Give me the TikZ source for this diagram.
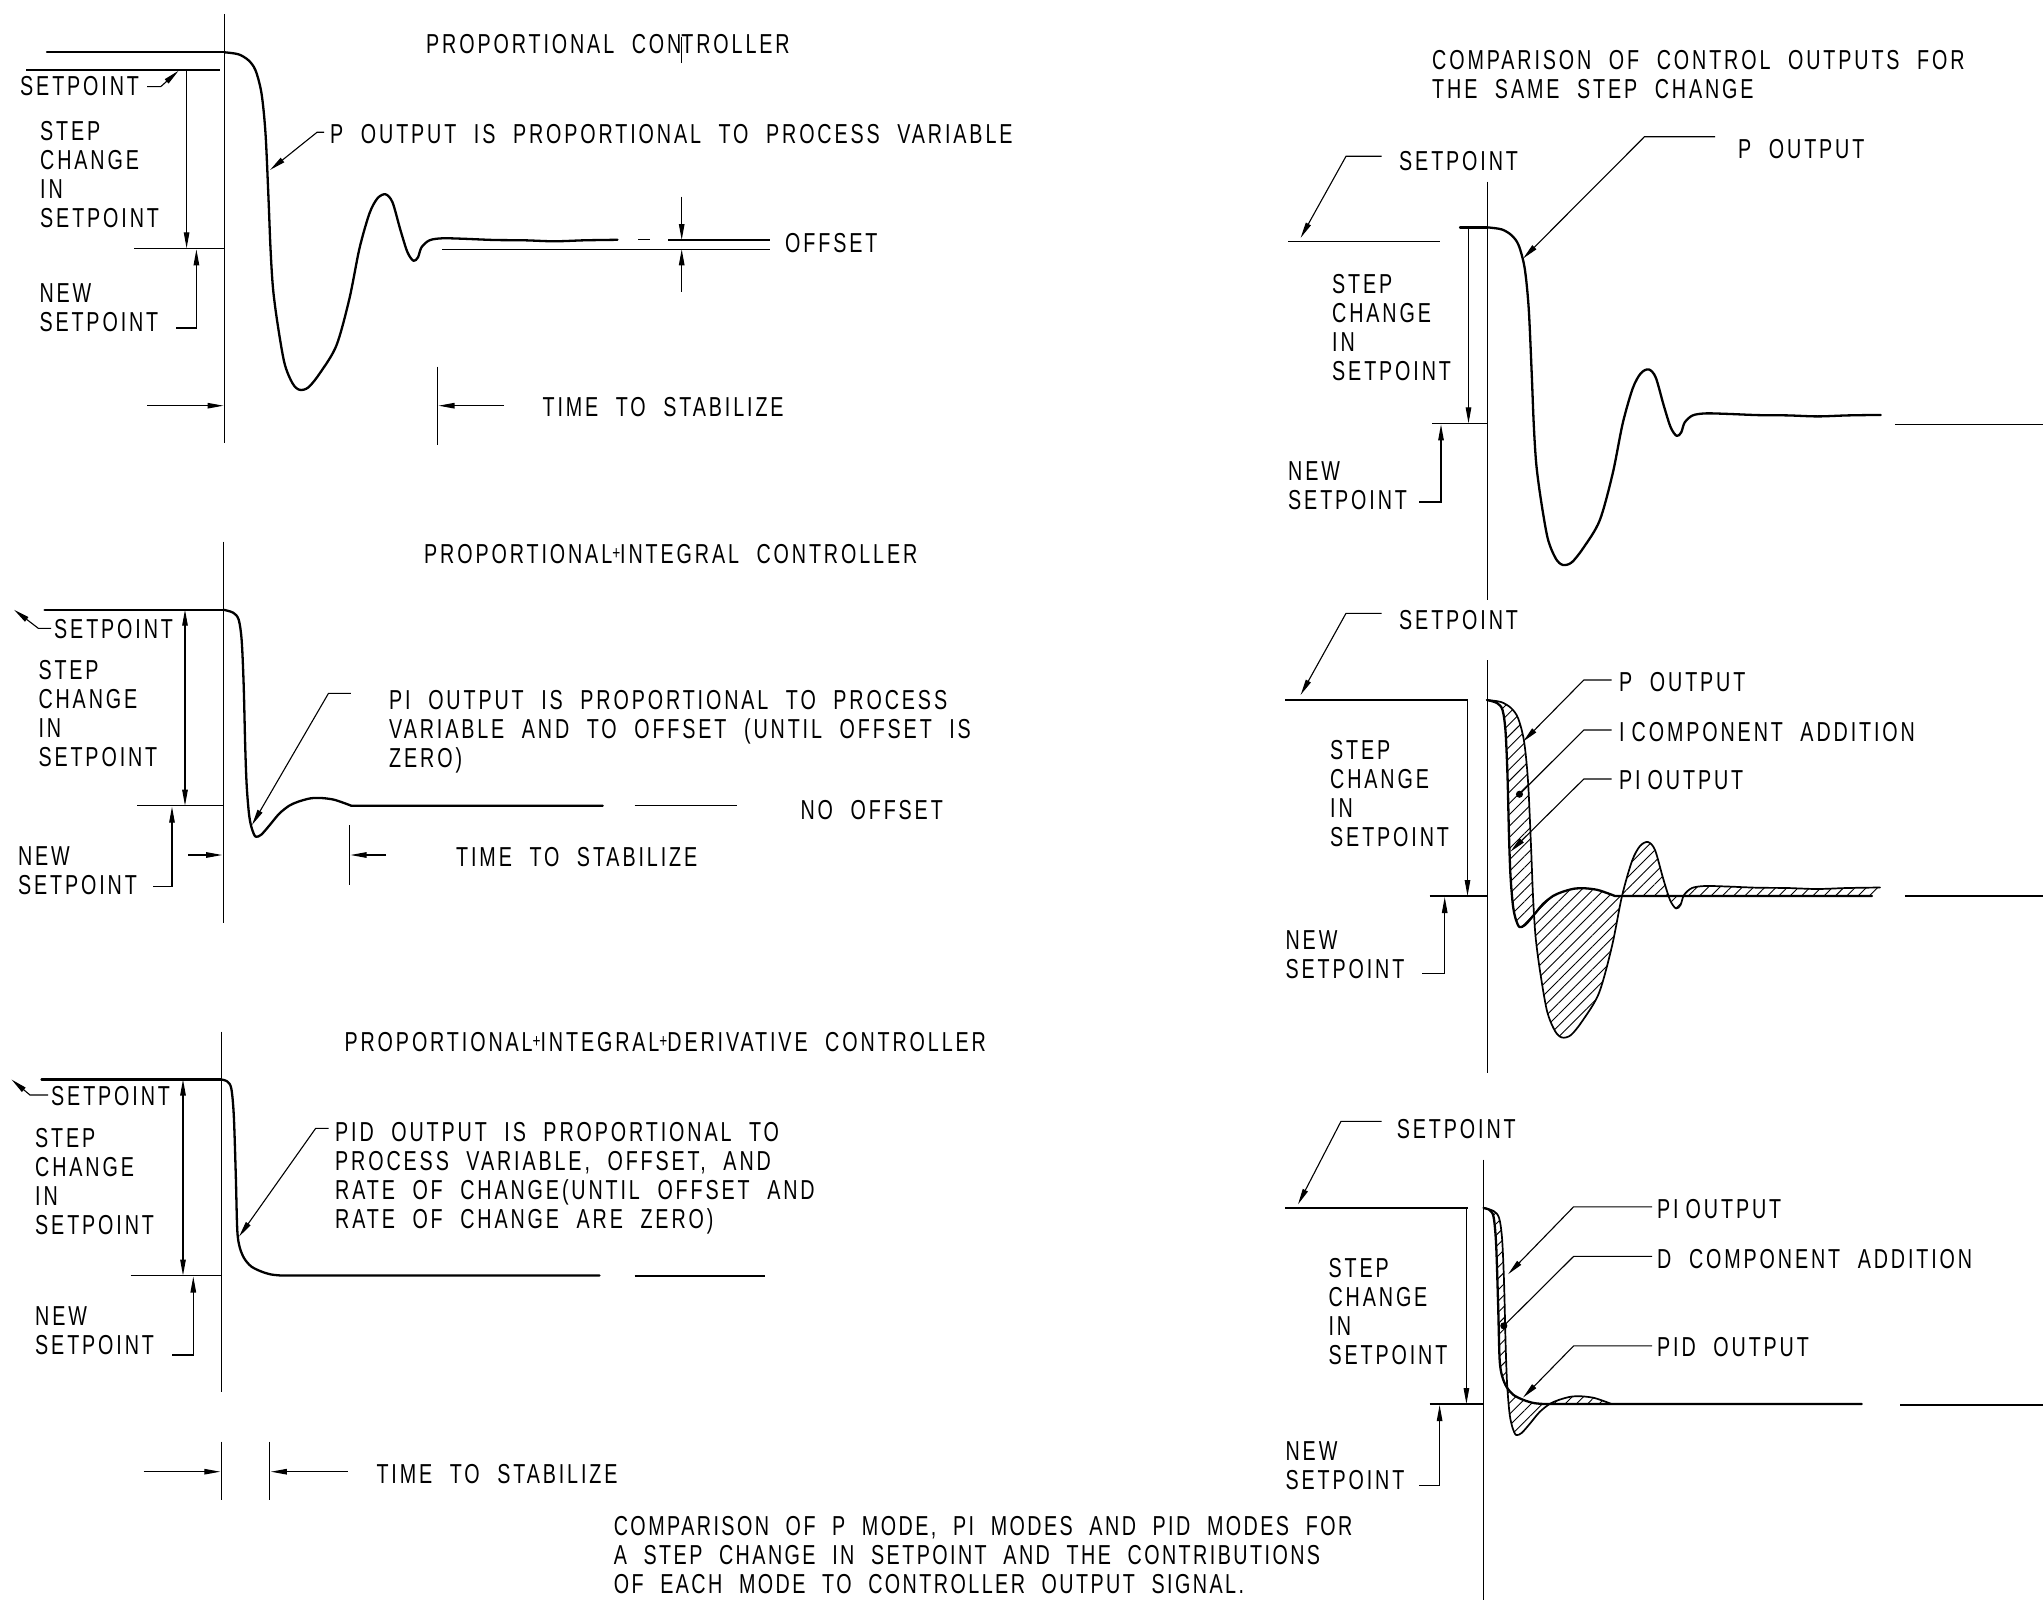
\documentclass[tikz,border=0pt]{standalone}
\usepackage{fontspec}
\setmainfont{Liberation Sans}[FakeStretch=0.72,LetterSpace=10.5,WordSpace=2.1]
\usetikzlibrary{arrows.meta,patterns.meta}
\newcommand{\Pc}{plot[smooth,tension=0.5] coordinates {(0,-196) (14,-194) (24,-188) (31,-178) (37,-155) (41,-115) (44,-50) (46,0) (48.5,40) (53,75) (60,115) (68,135) (75,141.5) (84,139) (96,124) (112,97) (125,50) (135,0) (145,-35) (153,-50) (161,-54) (168,-46) (176,-18) (183,4) (189,12.5) (193.5,9) (197,-1) (205,-8) (218,-10) (240,-9.5) (270,-8.3) (300,-8) (330,-7) (360,-8) (393,-8.5)}}
\newcommand{\PIc}{plot[smooth,tension=0.5] coordinates {(0,-196) (10,-193) (15.5,-186) (18.5,-165) (20.5,-120) (22,-60) (23.5,-20) (26,10) (29,24) (32.5,31) (38,29) (46,20) (56,8) (66,0) (75,-4) (87,-7.3) (98,-7.7) (110,-6.2) (120,-3) (128,0)}}
\newcommand{\PIrevL}{-- plot[smooth,tension=0.5] coordinates {(128,0) (120,-3) (110,-6.2) (98,-7.7) (87,-7.3) (75,-4) (66,0) (56,8) (46,20) (38,29) (32.5,31) (29,24) (26,10) (23.5,-20) (22,-60) (20.5,-120) (18.5,-165) (15.5,-186) (10,-193) (0,-196)}}
\newcommand{\PIDc}{plot[smooth,tension=0.5] coordinates {(0,-196) (6,-194) (10,-187) (12.5,-160) (14.5,-100) (16,-45) (18.5,-28) (23,-17) (30,-9) (40,-4) (50,-1) (60,0)}}
\newcommand{\PIDrevL}{-- plot[smooth,tension=0.5] coordinates {(60,0) (50,-1) (40,-4) (30,-9) (23,-17) (18.5,-28) (16,-45) (14.5,-100) (12.5,-160) (10,-187) (6,-194) (0,-196)}}
\newcommand{\plus}{\raisebox{4pt}{\fontsize{19pt}{19pt}\selectfont+}}
\newcommand{\tick}{\makebox[0pt]{\rule[-10pt]{1.1pt}{26.3pt}}}
\begin{document}
\begin{tikzpicture}[x=1pt,y=-1pt,font=\fontsize{27.4pt}{29pt}\selectfont]
\tikzset{
  tl/.style={line width=1.1pt},
  cv/.style={line width=2.3pt,line join=round,line cap=round},
  cvm/.style={line width=1.7pt,line join=round,line cap=round},
  arr/.style={-{Triangle[length=16pt,width=5.5pt]}},
  darr/.style={{Triangle[length=16pt,width=5.5pt]}-{Triangle[length=16pt,width=5.5pt]}},
  dotend/.style={-{Circle[length=7pt]}},
  txt/.style={inner sep=0pt,anchor=west,text height=19.6pt,text depth=0pt},
  mtxt/.style={inner sep=0pt,anchor=north west,align=left},
  hatch/.style={pattern={Lines[angle=45,distance=8pt,line width=0.9pt]}}
}
\fill[white] (0,0) rectangle (2043,1600);
\useasboundingbox (0,0) rectangle (2043,1600);

% ================= LEFT PANEL 1 : P =================
\node[txt] (t1) at (426,43.3) {PROPORTIONAL CON\tick TROLLER};
\draw[tl] (224.5,14) -- (224.5,443);
\draw[cv] (47,52.3) -- (224.5,52.3);
\begin{scope}[shift={(224.5,248.3)}]
  \draw[cv] \Pc;
\end{scope}
\draw[tl] (26,70) -- (220,70);
\node[txt] (sp1) at (20,86) {SETPOINT};
\draw[tl,arr] (147,86.7) -- (160.7,86.7) -- (178.6,70.7);
\node[mtxt] (st1) at (40,120.9) {STEP\\CHANGE\\IN\\SETPOINT};
\draw[tl,arr] (186.6,70) -- (186.6,248.3);
\draw[tl] (134,248.3) -- (224.5,248.3);
\draw[tl,arr] (176,328) -- (196.4,328) -- (196.4,249.3);
\node[mtxt] (ns1) at (39.3,283.2) {NEW\\SETPOINT};
\node[txt] (po1) at (330,133.3) {P OUTPUT IS PROPORTIONAL TO PROCESS VARIABLE};
\draw[tl,arr] (324,132.3) -- (317,132.3) -- (270,170);
\draw[tl] (442,249.3) -- (770,249.3);
\draw[tl] (638,239.5) -- (650,239.5);
\draw[tl] (668,240) -- (770,240);
\draw[tl,arr] (681.7,196.7) -- (681.7,240);
\draw[tl,arr] (681.7,291.7) -- (681.7,249.3);
\node[txt] (off1) at (785,242.7) {OFFSET};
\draw[tl,arr] (147,405.7) -- (223.5,405.7);
\draw[tl] (437.5,366.7) -- (437.5,445);
\draw[tl,arr] (504,405.7) -- (438.5,405.7);
\node[txt] (ts1) at (542.4,406.7) {TIME TO STABILIZE};

% ================= LEFT PANEL 2 : PI =================
\node[txt] (t2) at (424,553.3) {PROPORTIONAL\plus INTEGRAL CONTROLLER};
\draw[tl] (223.2,541.7) -- (223.2,923.3);
\draw[cv] (44.6,609.7) -- (223.2,609.7);
\begin{scope}[shift={(223.2,805.7)}]
  \draw[cv] \PIc -- (379.5,0);
\end{scope}
\draw[tl] (634.6,805.7) -- (736.7,805.7);
\draw[tl,arr] (51,628.3) -- (38.3,628.3) -- (14,609.7);
\node[txt] (sp2) at (54,628.3) {SETPOINT};
\draw[tl,darr] (185,609.7) -- (185,805.7);
\node[mtxt] (st2) at (38.3,660.2) {STEP\\CHANGE\\IN\\SETPOINT};
\draw[tl] (137,805.7) -- (223.2,805.7);
\draw[tl,arr] (153,886.7) -- (172,886.7) -- (172,806.7);
\node[mtxt] (ns2) at (17.9,846.9) {NEW\\SETPOINT};
\node[mtxt] (pi2) at (389,690.2) {PI OUTPUT IS PROPORTIONAL TO PROCESS\\VARIABLE AND TO OFFSET (UNTIL OFFSET IS\\ZERO)};
\draw[tl,arr] (350.8,693.3) -- (328.5,693.3) -- (252,825);
\node[txt] (no2) at (800.4,810) {NO OFFSET};
\draw[tl,arr] (188,855) -- (222.2,855);
\draw[tl] (349.5,825) -- (349.5,885);
\draw[tl,arr] (386,855) -- (350.5,855);
\node[txt] (ts2) at (456,856.7) {TIME TO STABILIZE};

% ================= LEFT PANEL 3 : PID =================
\node[txt] (t3) at (344.4,1041.7) {PROPORTIONAL\plus INTEGRAL\plus DERIVATIVE CONTROLLER};
\draw[tl] (221.3,1031.7) -- (221.3,1391.7);
\draw[tl] (221.3,1441.7) -- (221.3,1500);
\draw[cv] (41.5,1079.5) -- (221.3,1079.5);
\begin{scope}[shift={(221.3,1275.5)}]
  \draw[cv] \PIDc -- (378.2,0);
\end{scope}
\draw[tl] (634.6,1276) -- (765.4,1276);
\draw[tl,arr] (48,1095) -- (30,1095) -- (11.5,1079.5);
\node[txt] (sp3) at (51,1096) {SETPOINT};
\draw[tl,darr] (183,1079.5) -- (183,1275.5);
\node[mtxt] (st3) at (35,1128.5) {STEP\\CHANGE\\IN\\SETPOINT};
\draw[tl] (130.7,1275.5) -- (221.3,1275.5);
\draw[tl,arr] (172,1355) -- (193.3,1355) -- (193.3,1276.5);
\node[mtxt] (ns3) at (35,1306.9) {NEW\\SETPOINT};
\node[mtxt] (pid3) at (335,1121.9) {PID OUTPUT IS PROPORTIONAL TO\\PROCESS VARIABLE, OFFSET, AND\\RATE OF CHANGE(UNTIL OFFSET AND\\RATE OF CHANGE ARE ZERO)};
\draw[tl,arr] (328.5,1128.3) -- (315.7,1128.3) -- (239,1236.7);
\draw[tl,arr] (143.5,1471.7) -- (220.3,1471.7);
\draw[tl] (269.8,1441.7) -- (269.8,1500);
\draw[tl,arr] (347.6,1471.7) -- (270.8,1471.7);
\node[txt] (ts3) at (376.3,1473.3) {TIME TO STABILIZE};

% ================= CAPTION =================
\node[mtxt,font=\fontsize{27.4pt}{29pt}\selectfont\addfontfeatures{LetterSpace=8.9}] (cap) at (613.6,1516) {COMPARISON OF P MODE, PI MODES AND PID MODES FOR\\A STEP CHANGE IN SETPOINT AND THE CONTRIBUTIONS\\OF EACH MODE TO CONTROLLER OUTPUT SIGNAL.};

% ================= RIGHT TITLE =================
\node[mtxt] (rt) at (1432,50.2) {COMPARISON OF CONTROL OUTPUTS FOR\\THE SAME STEP CHANGE};

% ================= RIGHT PANEL 1 : P =================
\draw[tl] (1487.7,181.7) -- (1487.7,600);
\draw[tl] (1487.7,660) -- (1487.7,1073);
\draw[cv] (1460,227.4) -- (1487.7,227.4);
\begin{scope}[shift={(1487.7,423.4)}]
  \draw[cv] \Pc;
\end{scope}
\draw[tl] (1894.8,424.5) -- (2043,424.5);
\draw[tl] (1288,241.7) -- (1439.6,241.7);
\draw[tl,arr] (1381.5,156.3) -- (1346,156.3) -- (1300.6,237.9);
\node[txt] (rsp1) at (1399,161) {SETPOINT};
\draw[tl,arr] (1715,136.8) -- (1644.4,136.8) -- (1523,258.6);
\node[txt] (rp1) at (1738,149) {P OUTPUT};
\draw[tl,arr] (1468.5,227.4) -- (1468.5,423.4);
\draw[tl] (1432,423.4) -- (1487.7,423.4);
\draw[tl,arr] (1419.4,502) -- (1441,502) -- (1441,424.4);
\node[mtxt] (rst1) at (1332,274.2) {STEP\\CHANGE\\IN\\SETPOINT};
\node[mtxt] (rns1) at (1288,461) {NEW\\SETPOINT};

% ================= RIGHT PANEL 2 : PI =================
\draw[tl] (1285.4,700) -- (1467.5,700);
\draw[tl,arr] (1381.5,613.3) -- (1346,613.3) -- (1300.6,695);
\node[txt] (rsp2) at (1399,620) {SETPOINT};
\draw[tl,arr] (1467.5,700) -- (1467.5,896);
\draw[tl] (1429.5,896) -- (1487,896);
\draw[tl,arr] (1422,973.3) -- (1444.7,973.3) -- (1444.7,897);
\node[mtxt] (rst2) at (1330,740.2) {STEP\\CHANGE\\IN\\SETPOINT};
\node[mtxt] (rns2) at (1285.4,930.2) {NEW\\SETPOINT};
\begin{scope}[shift={(1487,896)}]
  \path[hatch] \Pc -- (385,0) \PIrevL -- cycle;
  \draw[cvm] \Pc;
  \draw[cv] \PIc -- (385,0);
\end{scope}
\draw[tl] (1904.9,896) -- (2043,896);
\draw[tl,arr] (1611.6,680) -- (1583.8,680) -- (1523,741.7);
\node[txt] (rp2) at (1619,681.7) {P OUTPUT};
\draw[tl,dotend] (1611.6,730) -- (1583.8,730) -- (1517,796.7);
\node[txt] (ri2) at (1619,731.7) {I\kern7pt COMPONENT ADDITION};
\draw[tl,arr] (1611.6,779) -- (1583.8,779) -- (1510.4,851.7);
\node[txt] (rpi2) at (1619,780) {PI\kern7pt OUTPUT};

% ================= RIGHT PANEL 3 : PID =================
\draw[tl] (1483.6,1159.5) -- (1483.6,1600);
\draw[tl] (1285.4,1208) -- (1467.5,1208);
\draw[tl,arr] (1381.5,1121.3) -- (1341,1121.3) -- (1298,1204.4);
\node[txt] (rsp3) at (1396.7,1129) {SETPOINT};
\draw[tl,arr] (1466.4,1208) -- (1466.4,1404);
\draw[tl] (1429.5,1404) -- (1483.6,1404);
\draw[tl,arr] (1419.4,1485.4) -- (1439.6,1485.4) -- (1439.6,1405);
\node[mtxt] (rst3) at (1328.4,1257.7) {STEP\\CHANGE\\IN\\SETPOINT};
\node[mtxt] (rns3) at (1285.4,1441.8) {NEW\\SETPOINT};
\begin{scope}[shift={(1483.6,1404)}]
  \path[hatch] \PIc -- (60,0) \PIDrevL -- cycle;
  \draw[cvm] \PIc;
  \draw[cv] \PIDc -- (378,0);
\end{scope}
\draw[tl] (1900,1405) -- (2043,1405);
\draw[tl,arr] (1652,1206.8) -- (1573.6,1206.8) -- (1508,1274.3);
\node[txt] (rpi3) at (1657,1208.4) {PI\kern7pt OUTPUT};
\draw[tl,dotend] (1652,1256.4) -- (1573.6,1256.4) -- (1501.3,1328.3);
\node[txt] (rd3) at (1657,1259) {D COMPONENT ADDITION};
\draw[tl,arr] (1652,1345.9) -- (1573.6,1345.9) -- (1523,1397.6);
\node[txt] (rpid3) at (1657,1347) {PID OUTPUT};
\end{tikzpicture}
\end{document}
